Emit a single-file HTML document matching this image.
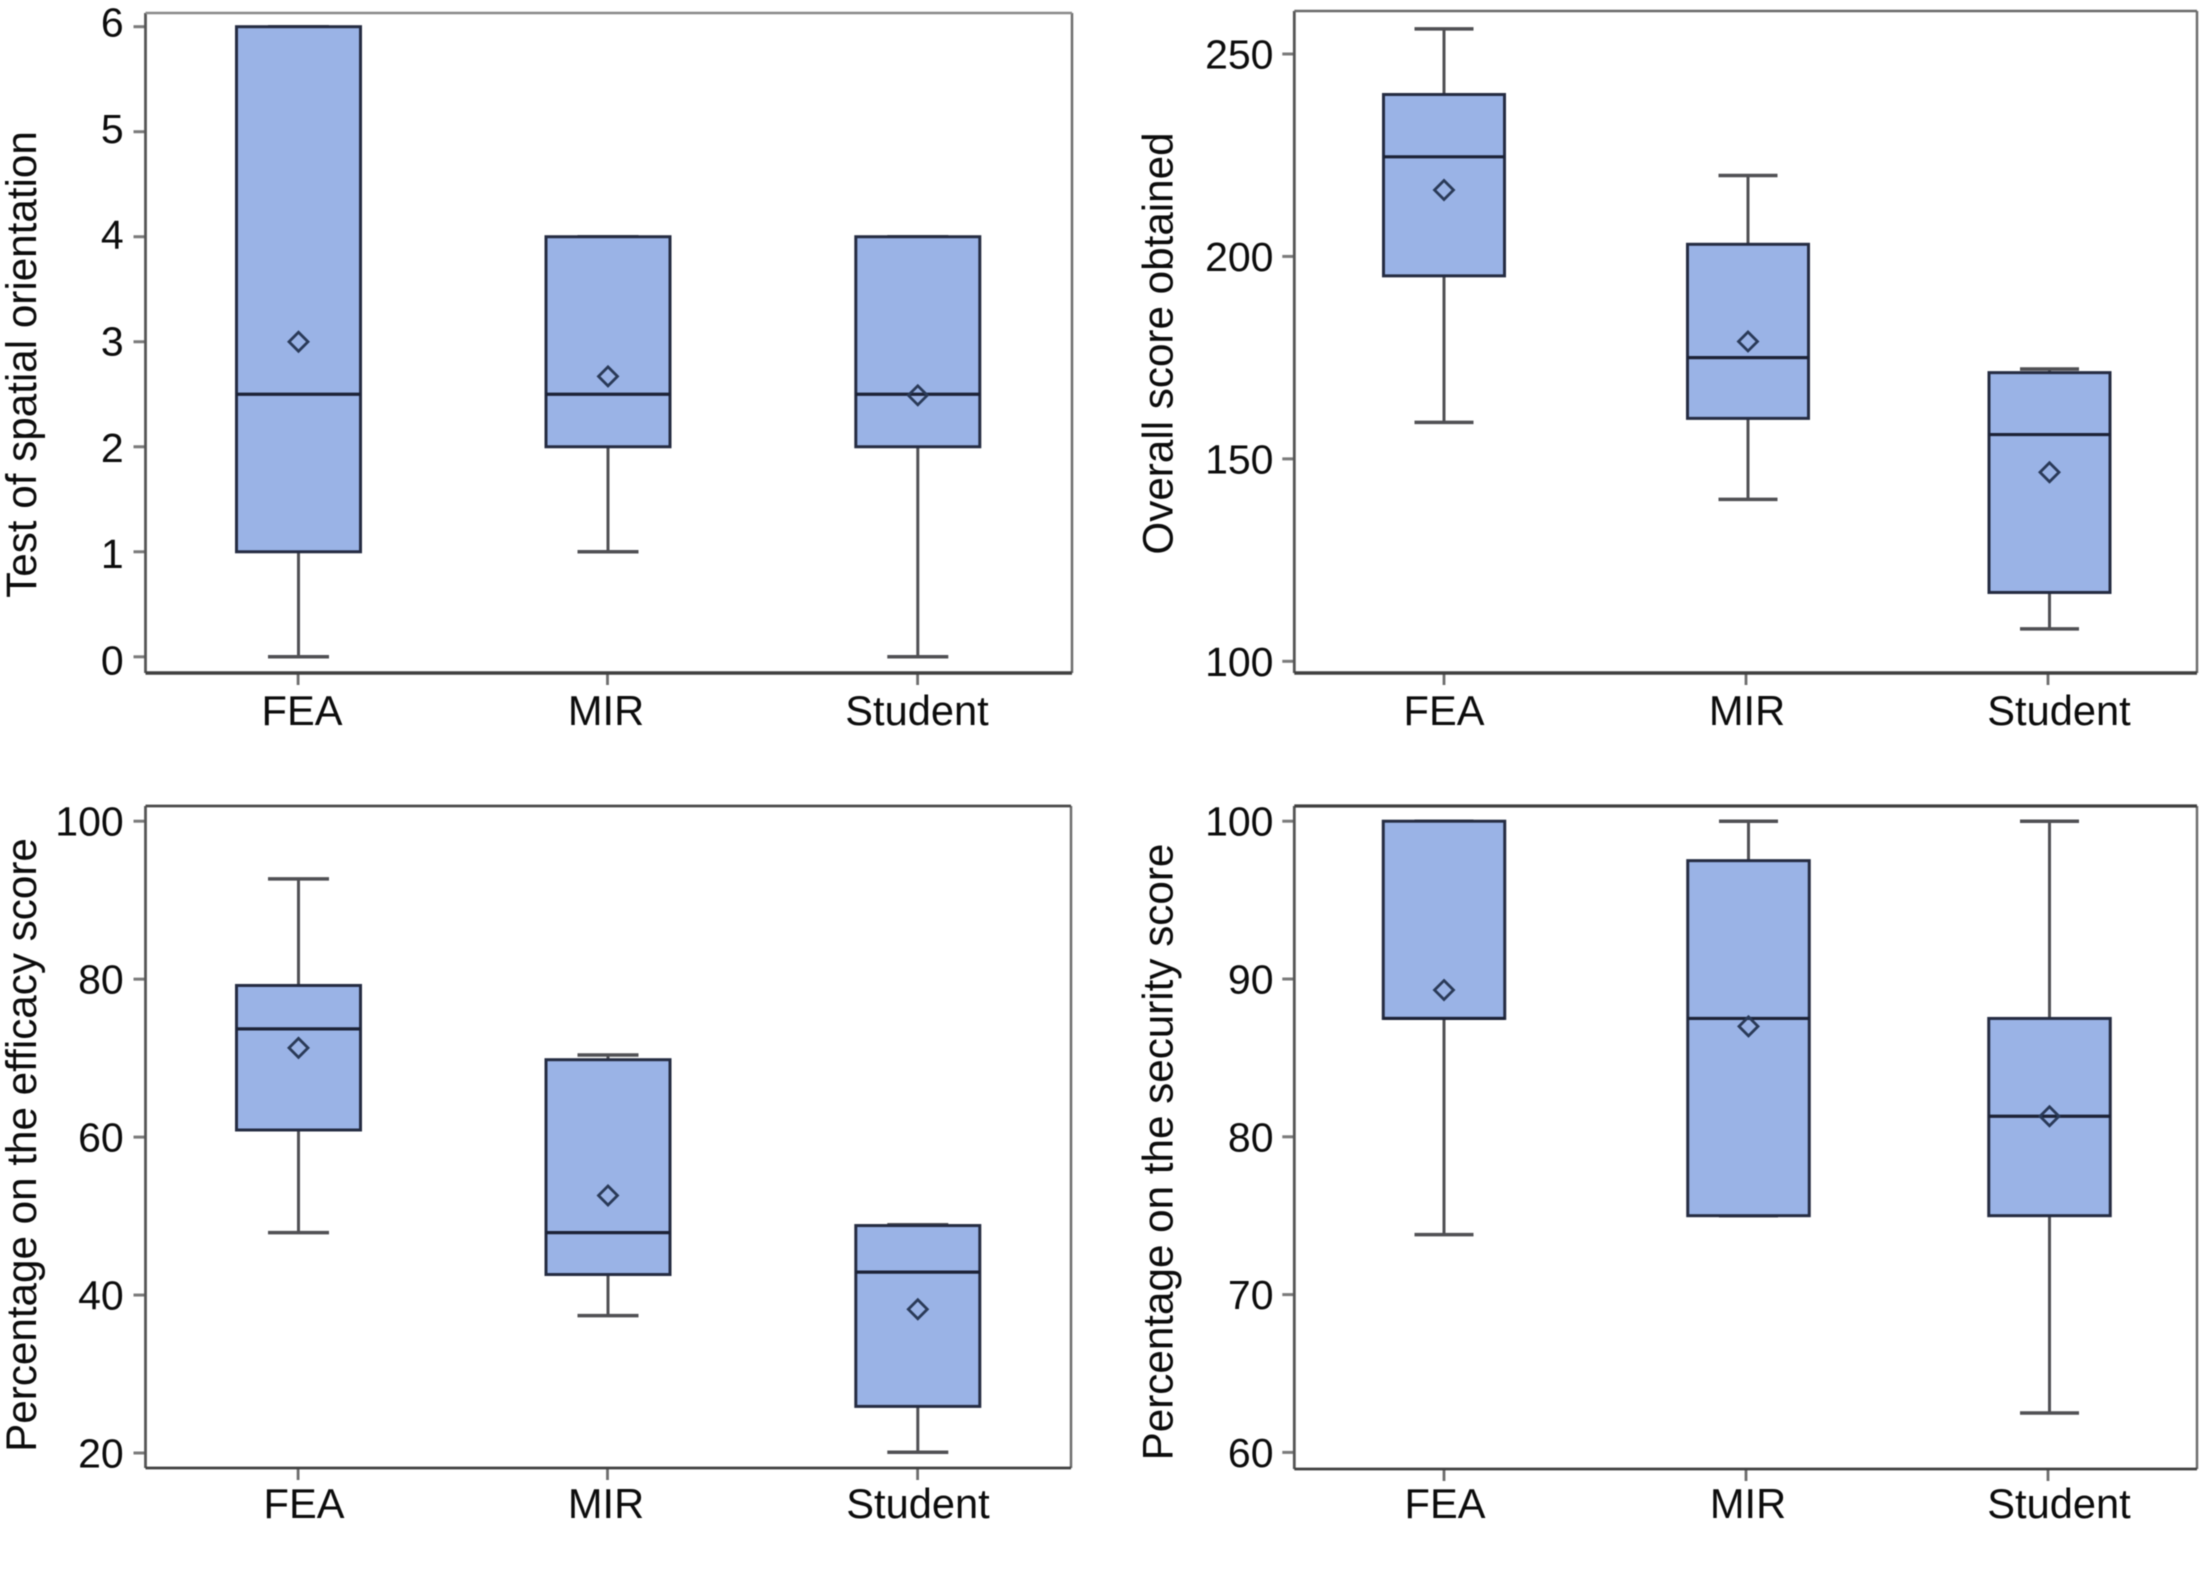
<!DOCTYPE html>
<html lang="en">
<head>
<meta charset="utf-8">
<title>Box plots by group: FEA, MIR, Student</title>
<style>
  html, body { margin: 0; padding: 0; background: #ffffff; }
  svg { display: block; font-family: "Liberation Sans", Arial, sans-serif; filter: blur(0.5px); }
  text { fill: #0c0c0c; }
</style>
</head>
<body>
<svg id="figure" xmlns="http://www.w3.org/2000/svg" width="2201" height="1578" viewBox="0 0 2201 1578"></svg>
<script>
// ---- Data ----
const categories = ['FEA', 'MIR', 'Student'];

const spatialTicks = [0, 1, 2, 3, 4, 5, 6];
const spatialMin = [0, 1, 0];
const spatialQ1 = [1, 2, 2];
const spatialMedian = [2.5, 2.5, 2.5];
const spatialQ3 = [6, 4, 4];
const spatialMax = [6, 4, 4];
const spatialMean = [3, 2.67, 2.49];

const overallTicks = [100, 150, 200, 250];
const overallMin = [159, 140, 108];
const overallQ1 = [195.2, 160, 117];
const overallMedian = [224.6, 175, 156];
const overallQ3 = [240, 203, 171.3];
const overallMax = [256.2, 220, 172.2];
const overallMean = [216.4, 179, 146.7];

const efficacyTicks = [20, 40, 60, 80, 100];
const efficacyMin = [47.9, 37.4, 20.1];
const efficacyQ1 = [60.9, 42.6, 25.9];
const efficacyMedian = [73.7, 47.9, 42.9];
const efficacyQ3 = [79.2, 69.8, 48.8];
const efficacyMax = [92.7, 70.4, 48.9];
const efficacyMean = [71.3, 52.6, 38.2];

const securityTicks = [60, 70, 80, 90, 100];
const securityMin = [73.8, 75, 62.5];
const securityQ1 = [87.5, 75, 75];
const securityMedian = [87.5, 87.5, 81.3];
const securityQ3 = [100, 97.5, 87.5];
const securityMax = [100, 100, 100];
const securityMean = [89.3, 87, 81.3];

// ---- Panel definitions (layout + links to the data above) ----
const panels = [
  { id: 'spatial-orientation', title: 'Test of spatial orientation', ticks: spatialTicks,
    min: spatialMin, q1: spatialQ1, median: spatialMedian, q3: spatialQ3, max: spatialMax, mean: spatialMean,
    frame: { left: 145.5, right: 1072, top: 13, bottom: 673 }, bottomWidth: 3.5, topWidth: 2.5, topColor: '#8a8a8a',
    domain: [0, 6], range: [656.8, 26.7], labelRange: [660, 22],
    markCenters: [298.5, 608, 917.8], tickCenters: [298.1, 607.5, 917.6], boxWidth: 124, capHalf: 30.5,
    tickRight: 145.5, labelRight: 123.7, labelCenters: [302, 606, 917], labelBaseline: 725,
    titleX: 36, titleCenter: 364.5 },
  { id: 'overall-score', title: 'Overall score obtained', ticks: overallTicks,
    min: overallMin, q1: overallQ1, median: overallMedian, q3: overallQ3, max: overallMax, mean: overallMean,
    frame: { left: 1294.3, right: 2197, top: 11, bottom: 673 }, bottomWidth: 3.5, topWidth: 2.5, topColor: '#6a6a6a',
    domain: [100, 250], range: [661.3, 54], labelRange: [661.3, 54],
    markCenters: [1444, 1748, 2049.5], tickCenters: [1444, 1746, 2048], boxWidth: 121, capHalf: 29.5,
    tickRight: 1294.3, labelRight: 1273.5, labelCenters: [1444, 1747, 2059], labelBaseline: 725,
    titleX: 1172.5, titleCenter: 343.5 },
  { id: 'efficacy-score', title: 'Percentage on the efficacy score', ticks: efficacyTicks,
    min: efficacyMin, q1: efficacyQ1, median: efficacyMedian, q3: efficacyQ3, max: efficacyMax, mean: efficacyMean,
    frame: { left: 145.5, right: 1071, top: 806, bottom: 1468 }, bottomWidth: 2.8, topWidth: 2.8, topColor: '#4a4a4a',
    domain: [20, 100], range: [1453, 821.2], labelRange: [1453, 821.2],
    markCenters: [298.5, 608, 917.8], tickCenters: [298.1, 607.5, 917.6], boxWidth: 124, capHalf: 30.5,
    tickRight: 145.5, labelRight: 123.7, labelCenters: [304, 606, 918], labelBaseline: 1518,
    titleX: 36, titleCenter: 1145 },
  { id: 'security-score', title: 'Percentage on the security score', ticks: securityTicks,
    min: securityMin, q1: securityQ1, median: securityMedian, q3: securityQ3, max: securityMax, mean: securityMean,
    frame: { left: 1294.3, right: 2197, top: 806, bottom: 1469 }, bottomWidth: 2.8, topWidth: 3.2, topColor: '#3f3f3f',
    domain: [60, 100], range: [1452.4, 821.2], labelRange: [1452.4, 821.2],
    markCenters: [1444, 1748.5, 2049.5], tickCenters: [1444, 1746, 2048], boxWidth: 121.5, capHalf: 29.5,
    tickRight: 1294.3, labelRight: 1273.5, labelCenters: [1445, 1748, 2059], labelBaseline: 1518,
    titleX: 1172.5, titleCenter: 1152 }
];

// ---- Drawing ----
const SVG_NS = 'http://www.w3.org/2000/svg';
const figure = document.getElementById('figure');

function make(parent, tag, props) {
  const el = document.createElementNS(SVG_NS, tag);
  for (const key in props) {
    el.setAttribute(key, props[key]);
  }
  parent.appendChild(el);
  return el;
}

function yScale(panel, value) {
  const share = (value - panel.domain[0]) / (panel.domain[1] - panel.domain[0]);
  return panel.range[0] + share * (panel.range[1] - panel.range[0]);
}

function yLabelScale(panel, value) {
  const share = (value - panel.domain[0]) / (panel.domain[1] - panel.domain[0]);
  return panel.labelRange[0] + share * (panel.labelRange[1] - panel.labelRange[0]);
}

function xScale(panel, index) {
  return panel.markCenters[index];
}

const STROKE_BOX = '#252c42';
const STROKE_WHISKER = '#505054';
const FILL_BOX = '#9ab3e6';
const AXIS_GRAY = '#555555';

panels.forEach(function (panel) {
  const group = make(figure, 'g', {});
  
  

  const f = panel.frame;

  const background = make(group, 'rect', { x: f.left, y: f.top, width: f.right - f.left, height: f.bottom - f.top, fill: '#ffffff' });
  
  

  // y ticks and labels
  panel.ticks.forEach(function (tick) {
    const y = yScale(panel, tick);
    const mark = make(group, 'line', { x1: panel.tickRight - 12, x2: panel.tickRight, y1: y, y2: y, stroke: '#7a7a7a', 'stroke-width': 3 });
    
    
    const label = make(group, 'text', { x: panel.labelRight, y: yLabelScale(panel, tick) + 14.5, 'text-anchor': 'end', 'font-size': 41 });
    
    
    label.textContent = String(tick);
  });

  // categories
  categories.forEach(function (category, i) {
    const tx = panel.tickCenters[i];
    const mark = make(group, 'line', { x1: tx, x2: tx, y1: f.bottom, y2: f.bottom + 12, stroke: '#6e6e6e', 'stroke-width': 2.8 });
    
    
    const label = make(group, 'text', { x: panel.labelCenters[i], y: panel.labelBaseline, 'text-anchor': 'middle', 'font-size': 41.6 });
    
    
    label.textContent = category;
  });

  // y axis title
  const title = make(group, 'text', {
    x: panel.titleX, y: panel.titleCenter, 'text-anchor': 'middle', 'font-size': 42.2,
    transform: 'rotate(-90 ' + panel.titleX + ' ' + panel.titleCenter + ')'
  });
  
  
  title.textContent = panel.title;

  // box plots
  categories.forEach(function (category, i) {
    const x = xScale(panel, i);
    const half = panel.boxWidth / 2;
    const yMin = yScale(panel, panel.min[i]);
    const yQ1 = yScale(panel, panel.q1[i]);
    const yMed = yScale(panel, panel.median[i]);
    const yQ3 = yScale(panel, panel.q3[i]);
    const yMax = yScale(panel, panel.max[i]);
    const yMean = yScale(panel, panel.mean[i]);

    const lowerWhisker = make(group, 'line', { x1: x, x2: x, y1: yQ1, y2: yMin, stroke: STROKE_WHISKER, 'stroke-width': 3 });
    
    

    const upperWhisker = make(group, 'line', { x1: x, x2: x, y1: yQ3, y2: yMax, stroke: STROKE_WHISKER, 'stroke-width': 3 });
    
    

    const lowerCap = make(group, 'line', { x1: x - panel.capHalf, x2: x + panel.capHalf, y1: yMin, y2: yMin, stroke: STROKE_WHISKER, 'stroke-width': 3.5 });
    
    

    const upperCap = make(group, 'line', { x1: x - panel.capHalf, x2: x + panel.capHalf, y1: yMax, y2: yMax, stroke: STROKE_WHISKER, 'stroke-width': 3.5 });
    
    

    const box = make(group, 'rect', { x: x - half, y: yQ3, width: panel.boxWidth, height: yQ1 - yQ3, fill: FILL_BOX, stroke: STROKE_BOX, 'stroke-width': 3 });
    
    

    const median = make(group, 'line', { x1: x - half, x2: x + half, y1: yMed, y2: yMed, stroke: '#1c2236', 'stroke-width': 3.2 });
    
    

    const r = 9.5;
    const mean = make(group, 'polygon', {
      points: x + ',' + (yMean - r) + ' ' + (x + r) + ',' + yMean + ' ' + x + ',' + (yMean + r) + ' ' + (x - r) + ',' + yMean,
      fill: 'none', stroke: '#2a3a58', 'stroke-width': 2.8
    });
    
    
  });

  // frame edges
  const leftEdge = make(group, 'line', { x1: f.left, x2: f.left, y1: f.top, y2: f.bottom, stroke: AXIS_GRAY, 'stroke-width': 2.8 });
  
  

  const rightEdge = make(group, 'line', { x1: f.right, x2: f.right, y1: f.top, y2: f.bottom, stroke: '#6e6e6e', 'stroke-width': 2.5 });
  
  

  const topEdge = make(group, 'line', { x1: f.left, x2: f.right, y1: f.top, y2: f.top, stroke: panel.topColor, 'stroke-width': panel.topWidth });
  
  

  const bottomEdge = make(group, 'line', { x1: f.left, x2: f.right, y1: f.bottom, y2: f.bottom, stroke: '#404040', 'stroke-width': panel.bottomWidth });
  
  
});
</script>
</body>
</html>
